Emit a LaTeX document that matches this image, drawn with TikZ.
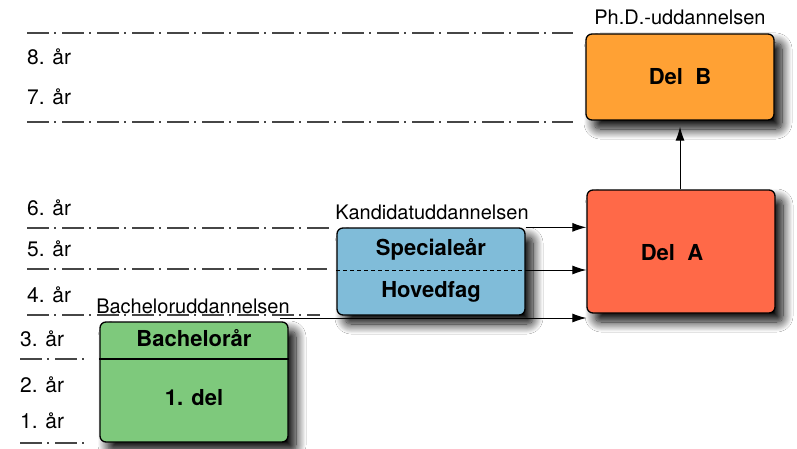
\documentclass[tikz,border=0pt]{standalone}
\usepackage{fontspec}
\setmainfont{TeX Gyre Heros}
\usetikzlibrary{shadows.blur,arrows.meta}
\definecolor{cDelB}{RGB}{255,161,52}
\definecolor{cDelA}{RGB}{255,105,72}
\definecolor{cBlue}{RGB}{128,188,217}
\definecolor{cGreen}{RGB}{126,201,124}
\definecolor{cLine}{RGB}{70,70,70}
\begin{document}
\begin{tikzpicture}[x=1pt,y=-1pt,
  box/.style={draw=black, line width=1.3pt, rounded corners=6pt, inner sep=0pt,
    blur shadow={shadow xshift=8pt, shadow yshift=-9pt, shadow blur steps=14,
      shadow blur radius=10pt, shadow opacity=100}},
  yearlbl/.style={anchor=base west, inner sep=0pt, font=\fontsize{21}{24}\selectfont},
  title/.style={anchor=base, inner sep=0pt, font=\fontsize{20}{24}\selectfont},
  boldtxt/.style={anchor=base, inner sep=0pt, font=\fontsize{22}{26}\selectfont\bfseries},
  sep/.style={draw=cLine, line width=1.3pt, dash pattern=on 22pt off 5pt on 2pt off 6pt},
  conn/.style={draw=black, line width=1pt, -{Latex[length=14pt,width=9pt]}}]
\useasboundingbox (0,0) rectangle (797,449);
\fill[white] (0,0) rectangle (797,449);

% separator lines
\coordinate (s1a) at (27,33);  \coordinate (s1b) at (573,33);
\coordinate (s2a) at (27,122); \coordinate (s2b) at (573,122);
\coordinate (s3a) at (27,228); \coordinate (s3b) at (330,228);
\coordinate (s4a) at (27,269); \coordinate (s4b) at (327,269);
\coordinate (s5a) at (27,315); \coordinate (s5b) at (320,315);
\coordinate (s6a) at (20,359); \coordinate (s6b) at (85,359);
\coordinate (s7a) at (20,443); \coordinate (s7b) at (85,443);
\foreach \i in {1,...,7} {\draw[sep] (s\i a) -- (s\i b);}

% year labels
\node[yearlbl] (y8) at (27,65) {8. år};
\node[yearlbl] (y7) at (27,105) {7. år};
\node[yearlbl] (y6) at (27,215) {6. år};
\node[yearlbl] (y5) at (27,256) {5. år};
\node[yearlbl] (y4) at (27,302) {4. år};
\node[yearlbl] (y3) at (20,346) {3. år};
\node[yearlbl] (y2) at (20,392) {2. år};
\node[yearlbl] (y1) at (20,428) {1. år};

% boxes
\node[box, fill=cDelB, minimum width=188pt, minimum height=86pt] (delB) at (680,77) {};
\node[box, fill=cDelA, minimum width=188pt, minimum height=123pt] (delA) at (681,251.5) {};
\node[box, fill=cBlue, minimum width=188pt, minimum height=87pt] (blue) at (431,271.5) {};
\node[box, fill=cGreen, minimum width=188pt, minimum height=120pt] (green) at (194,382) {};

% box titles
\node[title] (tPhd) at (680,25) {Ph.D.-uddannelsen};
\node[title] (tKand) at (432,219) {Kandidatuddannelsen};
\node[title] (tBach) at (193,313) {Bacheloruddannelsen};

% box contents
\node[boldtxt] (tDelB) at (680,85) {Del\ \ B};
\node[boldtxt] (tDelA) at (672,260) {Del\ \ A};
\node[boldtxt] (tSpec) at (431,255) {Specialeår};
\node[boldtxt] (tHoved) at (431,297) {Hovedfag};
\node[boldtxt] (tBachAar) at (194,346) {Bachelorår};
\node[boldtxt] (tDel1) at (194,405) {1. del};

% dividers
\coordinate (bmidL) at (blue.west |- 0,270);
\coordinate (bmidR) at (blue.east |- 0,270);
\draw[black, line width=0.8pt, dash pattern=on 4pt off 3pt] (bmidL) -- (bmidR);
\coordinate (gmidL) at (green.west |- 0,359);
\coordinate (gmidR) at (green.east |- 0,359);
\draw[black, line width=1.3pt] (gmidL) -- (gmidR);

% connectors
\coordinate (bstart) at (280,318);
\draw[conn] (blue.north east) -- (delA.west |- blue.north east);
\draw[conn] (bmidR) -- (delA.west |- bmidR);
\draw[conn] (bstart) -- (delA.west |- bstart);
\draw[conn, shorten >=6pt] (delA.north -| delB.south) -- (delB.south);
\end{tikzpicture}
\end{document}
